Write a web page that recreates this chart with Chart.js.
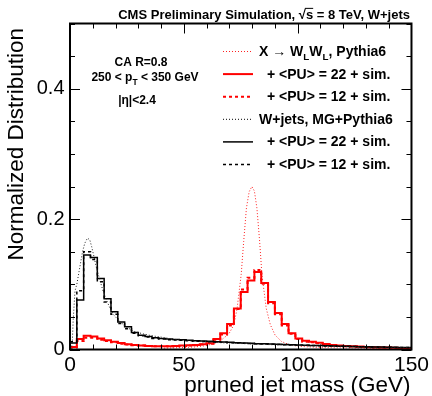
<!DOCTYPE html>
<html lang="en">
<head>
<meta charset="UTF-8">
<title>Pruned jet mass</title>
<script src="https://cdn.jsdelivr.net/npm/chart.js"></script>
<style>
  html, body { margin: 0; padding: 0; background: #fff; }
</style>
</head>
<body>
<canvas id="massChart" width="432" height="396"></canvas>
<script>
// histograms: 50 bins of 3 GeV between 0 and 150 GeV
var binWidth = 3;

// X -> WLWL with PU = 22 (red, solid)
var xwwPU22 = [0.004, 0.016, 0.021, 0.020, 0.017, 0.014, 0.012, 0.010, 0.008, 0.007,
               0.006, 0.0055, 0.005, 0.005, 0.005, 0.0055, 0.006, 0.0065, 0.007, 0.008,
               0.0095, 0.016, 0.025, 0.039, 0.063, 0.088, 0.106, 0.119, 0.102, 0.073,
               0.056, 0.039, 0.025, 0.017, 0.0135, 0.012, 0.0105, 0.0085, 0.007, 0.006,
               0.0055, 0.005, 0.0045, 0.004, 0.0035, 0.003, 0.003, 0.0025, 0.002, 0.002];
// X -> WLWL with PU = 12 (red, dashed)
var xwwPU12 = [0.003, 0.013, 0.018, 0.018, 0.015, 0.013, 0.011, 0.009, 0.0075, 0.0065,
               0.006, 0.0055, 0.005, 0.005, 0.005, 0.005, 0.0055, 0.006, 0.0065, 0.0075,
               0.009, 0.015, 0.023, 0.037, 0.062, 0.092, 0.110, 0.122, 0.101, 0.071,
               0.054, 0.037, 0.024, 0.016, 0.012, 0.011, 0.0095, 0.008, 0.0065, 0.0055,
               0.005, 0.0045, 0.004, 0.0035, 0.003, 0.003, 0.0025, 0.002, 0.002, 0.0015];
// W+jets with PU = 22 (black, solid)
var wjPU22 = [0.010, 0.076, 0.145, 0.141, 0.109, 0.078, 0.058, 0.042, 0.035, 0.026,
              0.022, 0.020, 0.018, 0.017, 0.016, 0.0155, 0.0148, 0.014, 0.0135, 0.013,
              0.0125, 0.012, 0.0116, 0.011, 0.0105, 0.010, 0.0096, 0.009, 0.0088, 0.0083,
              0.008, 0.0077, 0.0072, 0.007, 0.0066, 0.0063, 0.006, 0.0058, 0.0054, 0.0051,
              0.0048, 0.0046, 0.0043, 0.0041, 0.0039, 0.0037, 0.0035, 0.0033, 0.0031, 0.003];
// W+jets with PU = 12 (black, dashed)
var wjPU12 = [0.012, 0.090, 0.150, 0.138, 0.104, 0.073, 0.054, 0.040, 0.032, 0.025,
              0.021, 0.019, 0.017, 0.016, 0.015, 0.0145, 0.014, 0.0133, 0.0128, 0.0122,
              0.0118, 0.0113, 0.011, 0.0104, 0.010, 0.0096, 0.0092, 0.0087, 0.0084, 0.008,
              0.0077, 0.0074, 0.007, 0.0067, 0.0064, 0.0061, 0.0058, 0.0055, 0.0052, 0.005,
              0.0047, 0.0045, 0.0042, 0.004, 0.0038, 0.0036, 0.0034, 0.0032, 0.003, 0.0029];

// generator level curves (dotted), mass in GeV and value
var wjGenMass  = [0.5, 1.0, 1.4, 2.2, 3.0, 4.0, 5.5, 6.5, 7.7, 8.7, 9.5, 10.5, 11.5, 13.0, 14.5,
                  16.0, 17.5, 19.0, 21.0, 24.5, 28.0, 32.0, 36, 40, 45, 50, 60, 70, 80, 90,
                  100, 110, 120, 130, 140, 150];
var wjGenValue = [0.0, 0.01, 0.045, 0.09, 0.10, 0.12, 0.15, 0.163, 0.171, 0.168, 0.158, 0.143, 0.127, 0.108, 0.090,
                  0.076, 0.064, 0.054, 0.046, 0.035, 0.028, 0.024, 0.021, 0.019, 0.016, 0.014, 0.0115, 0.0098, 0.0085, 0.0072,
                  0.0062, 0.0053, 0.0045, 0.0039, 0.0034, 0.003];
var xwwGenMass  = [40, 50, 55, 60, 64, 67, 69.8, 72, 73.4, 75.2, 76.3, 77.5, 78.7, 79.9, 81,
                   82.1, 83.3, 84.3, 86.2, 88, 90.1, 93, 96, 100, 110, 130, 150];
var xwwGenValue = [0.002, 0.003, 0.004, 0.006, 0.010, 0.016, 0.024, 0.038, 0.063, 0.115, 0.166, 0.217, 0.242, 0.250, 0.243,
                   0.217, 0.166, 0.115, 0.063, 0.038, 0.022, 0.012, 0.008, 0.005, 0.003, 0.002, 0.001];

var xTickValues = [0, 50, 100, 150];
var xTickLabels = ['0', '50', '100', '150'];
var yTickValues = [0, 0.2, 0.4];
var yTickLabels = ['0', '0.2', '0.4'];
var xTitle = 'pruned jet mass (GeV)';
var yTitle = 'Normalized Distribution';

var fontFam = '"Liberation Sans", Arial, Helvetica, sans-serif';
Chart.defaults.font.family = fontFam;
Chart.defaults.color = '#000';

function toSteps(values) {
  var pts = [];
  values.forEach(function (v, i) {
    pts.push({x: i * binWidth, y: v});
    pts.push({x: (i + 1) * binWidth, y: v});
  });
  return pts;
}
function toPoints(xs, ys) {
  return xs.map(function (x, i) { return {x: x, y: ys[i]}; });
}

var legendItems = [
  {parts: [{t: 'X \u2192 W'}, {t: 'L', sub: true}, {t: 'W'}, {t: 'L', sub: true}, {t: ', Pythia6'}],
   color: '#ff2020', width: 1, dash: [1, 2], indent: 0},
  {parts: [{t: '+ <PU> = 22 + sim.'}], color: '#ff0000', width: 2, dash: [], indent: 8},
  {parts: [{t: '+ <PU> = 12 + sim.'}], color: '#ff0000', width: 2, dash: [3, 3], indent: 8},
  {parts: [{t: 'W+jets, MG+Pythia6'}], color: '#000', width: 1, dash: [1, 2], indent: 0},
  {parts: [{t: '+ <PU> = 22 + sim.'}], color: '#000', width: 1.5, dash: [], indent: 8},
  {parts: [{t: '+ <PU> = 12 + sim.'}], color: '#000', width: 1.5, dash: [3, 3], indent: 8}
];

function drawParts(ctx, parts, x, baseline, size, align) {
  var widths = parts.map(function (p) {
    ctx.font = 'bold ' + (p.sub ? size * 0.7 : size) + 'px ' + fontFam;
    return ctx.measureText(p.t).width;
  });
  var total = widths.reduce(function (a, b) { return a + b; }, 0);
  var cx = x;
  if (align === 'center') cx = x - total / 2;
  if (align === 'right') cx = x - total;
  ctx.textAlign = 'left';
  ctx.textBaseline = 'alphabetic';
  parts.forEach(function (p, i) {
    ctx.font = 'bold ' + (p.sub ? size * 0.7 : size) + 'px ' + fontFam;
    ctx.fillText(p.t, cx, p.sub ? baseline + size * 0.3 : baseline);
    if (p.over) {
      ctx.beginPath();
      ctx.lineWidth = 1;
      ctx.moveTo(cx - 1, baseline - size * 0.78);
      ctx.lineTo(cx + widths[i], baseline - size * 0.78);
      ctx.stroke();
    }
    cx += widths[i];
  });
}

var rootStyle = {
  id: 'rootStyle',
  afterDatasetsDraw: function (chart) {
    var ctx = chart.ctx, a = chart.chartArea;
    var xs = chart.scales.x, ys = chart.scales.y;
    ctx.save();
    ctx.strokeStyle = '#000';
    ctx.lineWidth = 1;
    ctx.setLineDash([]);
    ctx.beginPath();
    var v, px, len;
    for (v = 0; v <= 150; v += 10) {
      px = Math.round(xs.getPixelForValue(v)) + 0.5;
      len = (v % 50 === 0) ? 10 : 5;
      ctx.moveTo(px, a.bottom); ctx.lineTo(px, a.bottom - len);
      ctx.moveTo(px, a.top); ctx.lineTo(px, a.top + len);
    }
    for (v = 0; v <= 10; v += 1) {
      px = Math.round(ys.getPixelForValue(v * 0.05)) + 0.5;
      len = (v % 4 === 0) ? 10 : 5;
      ctx.moveTo(a.left, px); ctx.lineTo(a.left + len, px);
      ctx.moveTo(a.right, px); ctx.lineTo(a.right - len, px);
    }
    ctx.stroke();
    ctx.lineWidth = 2;
    ctx.strokeRect(a.left, a.top, a.right - a.left, a.bottom - a.top);
    ctx.restore();
  },
  afterDraw: function (chart) {
    var ctx = chart.ctx, a = chart.chartArea;
    ctx.save();
    ctx.fillStyle = '#000';
    ctx.strokeStyle = '#000';
    // axis titles, ROOT style: aligned to the axis end
    ctx.font = '22.5px ' + fontFam;
    ctx.textBaseline = 'middle';
    ctx.textAlign = 'right';
    ctx.fillText(xTitle, a.right - 1, 386);
    ctx.save();
    ctx.translate(16.5, 28);
    ctx.rotate(-Math.PI / 2);
    ctx.fillText(yTitle, 0, 0);
    ctx.restore();
    // header
    drawParts(ctx, [{t: 'CMS Preliminary Simulation, \u221A'}, {t: 's', over: true}, {t: ' = 8 TeV, W+jets'}],
              410, 18.5, 13, 'right');
    // selection text
    drawParts(ctx, [{t: 'CA R=0.8'}], 141, 66, 12, 'center');
    drawParts(ctx, [{t: '250 < p'}, {t: 'T', sub: true}, {t: ' < 350 GeV'}], 145, 81, 12, 'center');
    drawParts(ctx, [{t: '|\u03B7|<2.4'}], 137, 104, 12, 'center');
    // legend
    legendItems.forEach(function (item, i) {
      var yc = 51 + i * 22.6;
      ctx.save();
      ctx.strokeStyle = item.color;
      ctx.lineWidth = item.width;
      ctx.setLineDash(item.dash);
      ctx.beginPath();
      ctx.moveTo(223, yc + 0.5);
      ctx.lineTo(253, yc + 0.5);
      ctx.stroke();
      ctx.restore();
      drawParts(ctx, item.parts, 259 + item.indent, yc + 5, 14, 'left');
    });
    ctx.restore();
  }
};

function histSet(values, color, width, dash) {
  return {data: toSteps(values), borderColor: color, borderWidth: width, borderDash: dash,
          pointRadius: 0, fill: false, tension: 0};
}
function genSet(xs, ys, color) {
  return {data: toPoints(xs, ys), borderColor: color, borderWidth: 1, borderDash: [1, 2],
          pointRadius: 0, fill: false, tension: 0};
}

new Chart(document.getElementById('massChart'), {
  type: 'line',
  data: {
    datasets: [
      genSet(wjGenMass, wjGenValue, '#222'),
      histSet(wjPU12, '#000', 1.5, [3, 3]),
      histSet(wjPU22, '#000', 1.5, []),
      genSet(xwwGenMass, xwwGenValue, '#ff2020'),
      histSet(xwwPU12, '#ff0000', 2, [3, 3]),
      histSet(xwwPU22, '#ff0000', 2, [])
    ]
  },
  options: {
    responsive: false,
    animation: false,
    devicePixelRatio: 1,
    layout: {padding: {left: 0, right: 17.5, top: 23.5, bottom: 0}},
    plugins: {legend: {display: false}, tooltip: {enabled: false}},
    scales: {
      x: {
        type: 'linear', min: 0, max: 150,
        afterBuildTicks: function (s) { s.ticks = xTickValues.map(function (v) { return {value: v}; }); },
        afterFit: function (s) { s.height = 46.5; },
        ticks: {font: {size: 21}, color: '#000', padding: 3, maxRotation: 0, autoSkip: false,
                callback: function (v, i) { return xTickLabels[i]; }},
        grid: {display: false, drawTicks: false},
        border: {display: false}
      },
      y: {
        type: 'linear', min: 0, max: 0.5,
        afterBuildTicks: function (s) { s.ticks = yTickValues.map(function (v) { return {value: v}; }); },
        afterFit: function (s) { s.width = 70; },
        ticks: {font: {size: 20}, color: '#000', padding: 5.5,
                callback: function (v, i) { return yTickLabels[i]; }},
        grid: {display: false, drawTicks: false},
        border: {display: false}
      }
    }
  },
  plugins: [rootStyle]
});
</script>
</body>
</html>
